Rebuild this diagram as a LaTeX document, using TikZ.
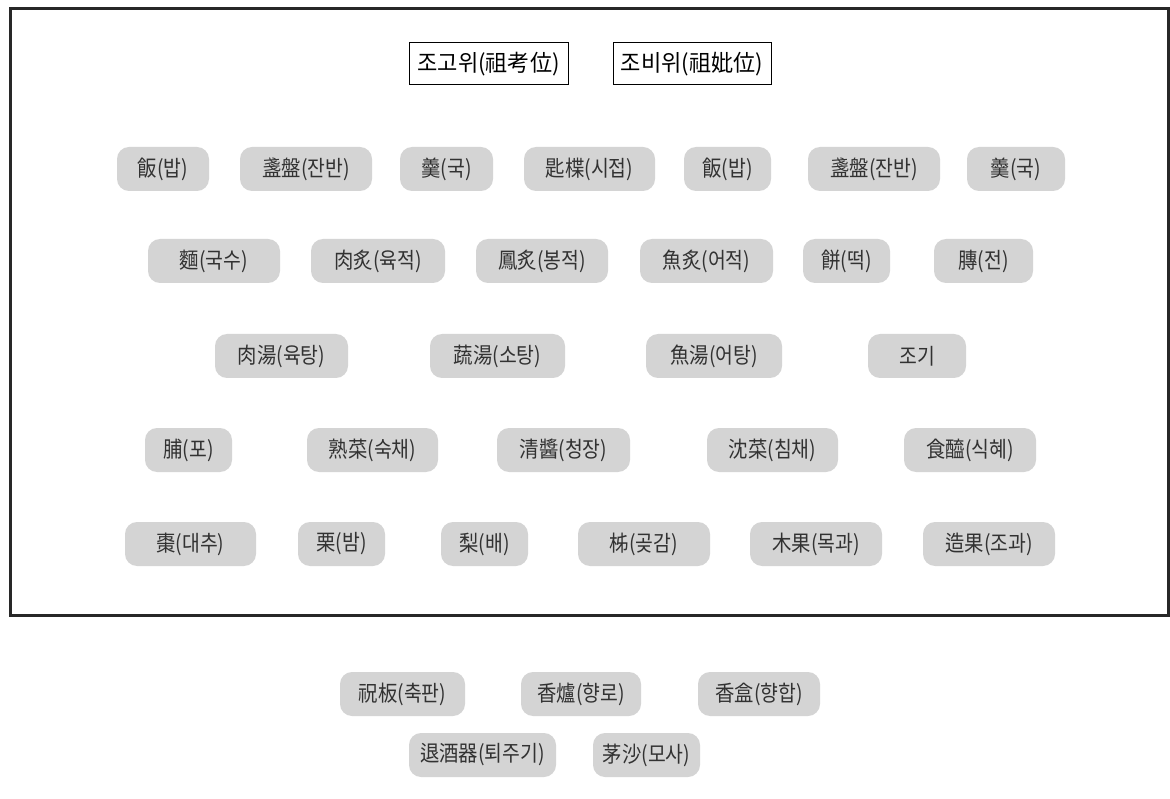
\documentclass[tikz,border=0pt]{standalone}
\usepackage{fontspec}
\newfontfamily\kr[FakeStretch=0.88]{Noto Sans CJK KR}
\newfontfamily\krw[FakeStretch=0.96]{Noto Sans CJK KR}
\definecolor{pillgray}{RGB}{212,212,212}
\definecolor{inkgray}{RGB}{50,50,50}
\definecolor{framegray}{RGB}{40,40,40}
\tikzset{
  pill/.style={rounded corners=12pt, fill=pillgray, draw=none, minimum height=44pt, inner sep=0pt, text=inkgray, font=\kr\fontsize{22}{24}\selectfont},
  tablet/.style={draw=black, line width=1pt, fill=white, minimum height=42pt, inner sep=0pt, text=black, font=\krw\fontsize{23}{25}\selectfont}
}
\begin{document}
\begin{tikzpicture}[x=1pt,y=-1pt]
\useasboundingbox (0,0) rectangle (1170,799);
\fill[white] (0,0) rectangle (1170,799);
\draw[framegray, line width=3pt] (10.5,8.5) rectangle (1168,615.5);
% tablets
\node[tablet, minimum width=159] (t1) at (488.5,64) {조고위(祖考位)};
\node[tablet, minimum width=158] (t2) at (692,64) {조비위(祖妣位)};
% row 1
\node[pill, minimum width=92]  (a1) at (163,169)   {飯(밥)};
\node[pill, minimum width=132] (a2) at (306,169)   {盞盤(잔반)};
\node[pill, minimum width=93]  (a3) at (446.5,169) {羹(국)};
\node[pill, minimum width=131] (a4) at (589.5,169) {匙楪(시접)};
\node[pill, minimum width=87]  (a5) at (727.5,169) {飯(밥)};
\node[pill, minimum width=132] (a6) at (874,169)   {盞盤(잔반)};
\node[pill, minimum width=98]  (a7) at (1016,169)  {羹(국)};
% row 2
\node[pill, minimum width=132] (b1) at (214,261)   {麵(국수)};
\node[pill, minimum width=134] (b2) at (378,261)   {肉炙(육적)};
\node[pill, minimum width=132] (b3) at (542,261)   {鳳炙(봉적)};
\node[pill, minimum width=133] (b4) at (706.5,261) {魚炙(어적)};
\node[pill, minimum width=87]  (b5) at (846.5,261) {餅(떡)};
\node[pill, minimum width=99]  (b6) at (983.5,261) {膞(전)};
% row 3
\node[pill, minimum width=133] (c1) at (281.5,356) {肉湯(육탕)};
\node[pill, minimum width=135] (c2) at (497.5,356) {蔬湯(소탕)};
\node[pill, minimum width=136] (c3) at (714,356)   {魚湯(어탕)};
\node[pill, minimum width=98]  (c4) at (917,356)   {조기};
% row 4
\node[pill, minimum width=87]  (d1) at (188.5,450) {脯(포)};
\node[pill, minimum width=131] (d2) at (372.5,450) {熟菜(숙채)};
\node[pill, minimum width=133] (d3) at (563.5,450) {清醬(청장)};
\node[pill, minimum width=131] (d4) at (772.5,450) {沈菜(침채)};
\node[pill, minimum width=132] (d5) at (970,450)   {食醯(식혜)};
% row 5
\node[pill, minimum width=131] (e1) at (190.5,544) {棗(대추)};
\node[pill, minimum width=87]  (e2) at (341.5,544) {栗(밤)};
\node[pill, minimum width=87]  (e3) at (484.5,544) {梨(배)};
\node[pill, minimum width=132] (e4) at (644,544)   {柹(곶감)};
\node[pill, minimum width=132] (e5) at (816,544)   {木果(목과)};
\node[pill, minimum width=132] (e6) at (989,544)   {造果(조과)};
% outside
\node[pill, minimum width=125] (f1) at (402.5,694) {祝板(축판)};
\node[pill, minimum width=120] (f2) at (581,694)   {香爐(향로)};
\node[pill, minimum width=122] (f3) at (759,694)   {香盒(향합)};
\node[pill, minimum width=147] (g1) at (482.5,755) {退酒器(퇴주기)};
\node[pill, minimum width=107] (g2) at (646.5,755) {茅沙(모사)};
\end{tikzpicture}
\end{document}
